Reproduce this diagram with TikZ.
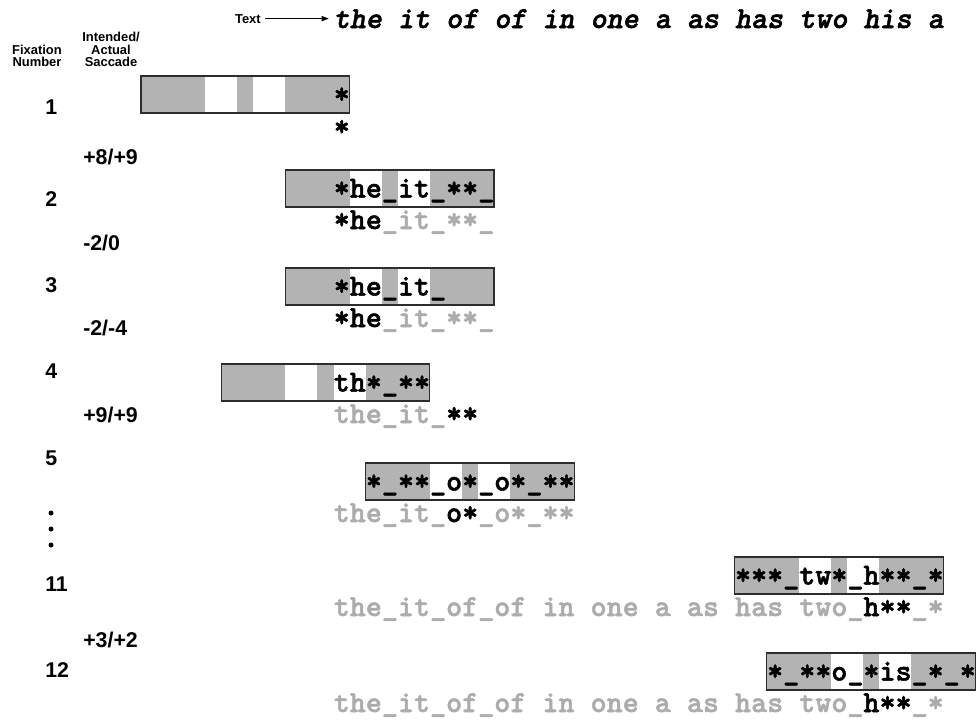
\documentclass[tikz,border=0pt]{standalone}
\usepackage{fontspec}
\setmainfont{Liberation Sans}
\newfontfamily\cmono{lmmonolt10-bold.otf}[FakeBold=1.6]
\newfontfamily\cmonoit{lmmonolt10-boldoblique.otf}[FakeBold=1.6]
\usetikzlibrary{arrows.meta}
\definecolor{boxgray}{RGB}{179,179,179}
\definecolor{txtgray}{RGB}{172,172,172}
\definecolor{edgecol}{RGB}{45,45,45}
\newcommand{\gr}[1]{\textcolor{txtgray}{#1}}
% window box: #1 first character index, #2 top (px)
\newcommand{\winbox}[2]{%
  \begin{scope}[shift={({333.5+(#1)*16.05},#2)}]
    \fill[boxgray] (0,0) rectangle (208.65,37);
    \fill[white] (64.2,0) rectangle (96.3,37);
    \fill[white] (112.35,0) rectangle (144.45,37);
    \draw[edgecol, line width=0.9pt] (0,0) rectangle (208.65,37);
  \end{scope}}
\begin{document}
\begin{tikzpicture}[x=0.75pt, y=-0.75pt,
  mono/.style={font=\cmono\fontsize{22.93}{26}\selectfont, inner sep=0pt, anchor=base west},
  monoit/.style={font=\cmonoit\fontsize{22.93}{26}\selectfont, inner sep=0pt, anchor=base west},
  num/.style={font=\bfseries\fontsize{16}{18}\selectfont, inner sep=0pt, anchor=base west},
  hdr/.style={font=\bfseries\fontsize{9.7}{11}\selectfont, inner sep=0pt, anchor=base},
  dotmark/.style={fill=black, draw=none}]
\useasboundingbox (0,0) rectangle (977,722);

% header
\node[hdr, anchor=base east] (textlbl) at (261,23) {Text};
\node[monoit] (toptext) at (333.5,28) {the it of of in one a as has two his a};
\draw[line width=0.8pt, -{Triangle[length=5.5pt,width=4pt]}, shorten <=3pt, shorten >=3.5pt]
  (textlbl.east) -- (textlbl.east -| toptext.west);

\node[hdr] (fix1) at (37,54.3) {Fixation};
\node[hdr] (fix2) at (37,66.7) {Number};
\node[hdr] (sac1) at (111,41) {Intended/};
\node[hdr] (sac2) at (111,54.3) {Actual};
\node[hdr] (sac3) at (111,66.7) {Saccade};

% fixation numbers and saccades
\node[num] (n1) at (45,114) {1};
\node[num] (s1) at (83,164) {+8/+9};
\node[num] (n2) at (45,206) {2};
\node[num] (s2) at (83,250) {-2/0};
\node[num] (n3) at (45,292) {3};
\node[num] (s3) at (83,335) {-2/-4};
\node[num] (n4) at (45,378) {4};
\node[num] (s4) at (83,422) {+9/+9};
\node[num] (n5) at (45,465) {5};
\fill[dotmark] (51,513) circle (2.5);
\fill[dotmark] (51,529) circle (2.5);
\fill[dotmark] (51,545) circle (2.5);
\node[num] (n11) at (45,591) {11};
\node[num] (s11) at (83,647) {+3/+2};
\node[num] (n12) at (45,677) {12};

% row 1
\winbox{-12}{76}
\node[mono] (r1in) at (333.5,103.5) {*};
\node[mono] (r1out) at (333.5,136) {*};
% row 2
\winbox{-3}{170}
\node[mono] (r2in) at (333.5,197.5) {*he\_it\_**\_};
\node[mono] (r2out) at (333.5,229) {*he\gr{\_it\_**\_}};
% row 3
\winbox{-3}{268}
\node[mono] (r3in) at (333.5,295.5) {*he\_it\_};
\node[mono] (r3out) at (333.5,327) {*he\gr{\_it\_**\_}};
% row 4
\winbox{-7}{364}
\node[mono] (r4in) at (333.5,391.5) {th*\_**};
\node[mono] (r4out) at (333.5,423) {\gr{the\_it\_}**};
% row 5
\winbox{2}{463}
\node[mono] (r5in) at (365.6,490.5) {*\_**\_o*\_o*\_**};
\node[mono] (r5out) at (333.5,522) {\gr{the\_it\_}o*\gr{\_o*\_**}};
% row 11
\winbox{25}{557}
\node[mono] (r11in) at (734.75,584.5) {***\_tw*\_h**\_*};
\node[mono] (r11out) at (333.5,616) {\gr{the\_it\_of\_of in one a as has two\_}h**\gr{\_*}};
% row 12
\winbox{27}{653}
\node[mono] (r12in) at (766.85,680.5) {*\_**o\_*is\_*\_*};
\node[mono] (r12out) at (333.5,712) {\gr{the\_it\_of\_of in one a as has two\_}h**\gr{\_*}};
\end{tikzpicture}
\end{document}
